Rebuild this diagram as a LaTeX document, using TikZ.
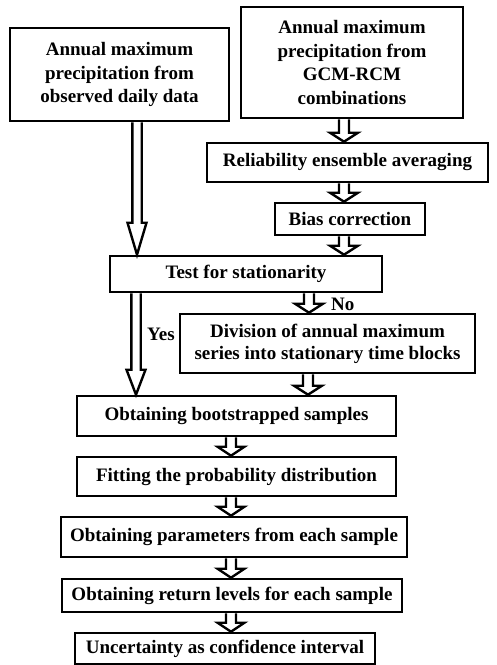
\documentclass[tikz,border=0pt]{standalone}
\usepackage{fontspec}
\setmainfont{Liberation Serif}
\usetikzlibrary{calc}
\tikzset{
  box/.style={draw, line width=2.6pt, inner sep=0pt, align=center, fill=white,
    font=\fontsize{19}{23.8}\selectfont\bfseries},
  arrowline/.style={draw, fill=white, line width=2.4pt, line join=miter},
  lbl/.style={inner sep=0pt, font=\fontsize{19}{22}\selectfont\bfseries}
}
% #1 x, #2 from node, #3 to node, #4 shaft half width, #5 head half width, #6 head length
\newcommand\blockarrow[6]{%
  \path[arrowline] let \p1=(#2.south), \p2=(#3.north) in
    (#1pt-#4pt,\y1) -- (#1pt-#4pt,\y2+#6pt) -- (#1pt-#5pt,\y2+#6pt) -- (#1pt,\y2)
    -- (#1pt+#5pt,\y2+#6pt) -- (#1pt+#4pt,\y2+#6pt) -- (#1pt+#4pt,\y1);
}
\begin{document}
\begin{tikzpicture}[x=1pt,y=-1pt]
\useasboundingbox[fill=white] (0,0) rectangle (497,665);
\node[box, minimum width=219pt, minimum height=93pt] (A) at (119.5,74.5)
  {Annual maximum\\precipitation from\\observed daily data};
\node[box, minimum width=222pt, minimum height=111pt] (B) at (352,62.5)
  {Annual maximum\\precipitation from\\GCM-RCM\\combinations};
\node[box, minimum width=281pt, minimum height=39pt] (rel) at (347.5,162.5)
  {Reliability ensemble averaging};
\node[box, minimum width=150pt, minimum height=32pt] (bias) at (350,219)
  {Bias correction};
\node[box, minimum width=272pt, minimum height=36pt] (test) at (246,274)
  {Test for stationarity};
\node[box, minimum width=295pt, minimum height=59pt, font=\fontsize{19}{22}\selectfont\bfseries] (div) at (327.5,343.5)
  {Division of annual maximum\\series into stationary time blocks};
\node[box, minimum width=319pt, minimum height=40pt] (boot) at (236.5,416)
  {Obtaining bootstrapped samples};
\node[box, minimum width=319pt, minimum height=39pt] (fit) at (236.5,476.5)
  {Fitting the probability distribution};
\node[box, minimum width=346pt, minimum height=40pt] (par) at (234,537)
  {Obtaining parameters from each sample};
\node[box, minimum width=340pt, minimum height=33pt] (ret) at (232,595.5)
  {Obtaining return levels for each sample};
\node[box, minimum width=300pt, minimum height=31pt] (unc) at (225,648.5)
  {Uncertainty as confidence interval};

% long arrows
\blockarrow{137}{A}{test}{4.7}{9.5}{32}
\blockarrow{136}{test}{boot}{4.7}{9.5}{25}
% right column
\blockarrow{344}{B}{rel}{5}{14}{9}
\blockarrow{344}{rel}{bias}{5}{14}{9}
\blockarrow{344}{bias}{test}{5}{14}{9}
% no branch
\blockarrow{309}{test}{div}{5}{14}{9}
\blockarrow{308}{div}{boot}{5}{14}{9}
% lower column
\blockarrow{231}{boot}{fit}{5}{13.5}{9}
\blockarrow{231}{fit}{par}{5}{13.5}{9}
\blockarrow{231}{par}{ret}{5}{13.5}{9}
\blockarrow{231}{ret}{unc}{5}{13.5}{9}

\node[lbl, anchor=west] (yes) at (147,334) {Yes};
\node[lbl, anchor=west] (no) at (331,304) {No};
\end{tikzpicture}
\end{document}
